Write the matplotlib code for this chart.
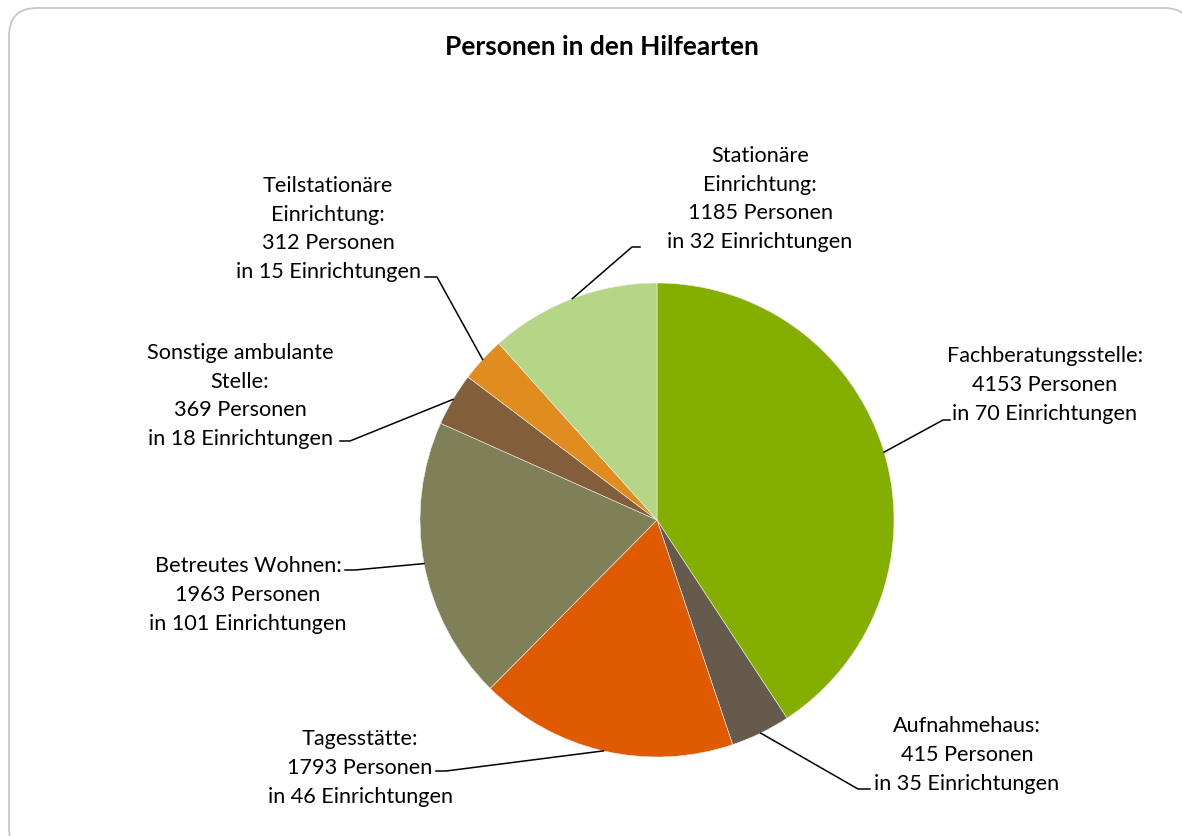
import matplotlib.pyplot as plt
import numpy as np
from matplotlib.patches import FancyBboxPatch

plt.rcParams['font.family'] = ['Lato', 'DejaVu Sans']

names = ['Fachberatungsstelle', 'Aufnahmehaus', 'Tagesstätte', 'Betreutes Wohnen',
         'Sonstige ambulante\nStelle', 'Teilstationäre\nEinrichtung', 'Stationäre\nEinrichtung']
persons = [4153, 415, 1793, 1963, 369, 312, 1185]
facilities = [70, 35, 46, 101, 18, 15, 32]
colors = ['#84AF00', '#655A4C', '#E05A00', '#7F7F58', '#825E3A', '#E08C1E', '#B5D587']

# label text centre (px from top-left) and elbow of the leader line
label_pos = [(1045, 385), (967, 755), (360, 768), (248, 595), (240, 396), (328, 229), (760, 199)]
elbows = [((943, 421), (950, 421)), ((858, 790), (870, 790)), ((446, 772), (436, 772)),
          ((355, 571), (345, 571)), ((350, 442), (340, 442)), ((437, 278), (425, 278)),
          ((632, 248), (640, 248))]

W, H = 1182, 837
fig = plt.figure(figsize=(W / 100, H / 100), dpi=100)
ax = fig.add_axes([0, 0, 1, 1])

frame = FancyBboxPatch((9, -20), 1183, H - 9 + 20, boxstyle='round,pad=0,rounding_size=28',
                       fc='white', ec='#C8C8C8', lw=1.3, zorder=0)
ax.add_patch(frame)

cx, cy, r = 657, H - 521, 237
wedges, _ = ax.pie(persons, colors=colors, startangle=90, counterclock=False,
                   center=(cx, cy), radius=r, frame=True,
                   wedgeprops=dict(linewidth=0.4, edgecolor='#EEEEEE'))
ax.set_xlim(0, W)
ax.set_ylim(0, H)
ax.set_aspect('equal')
ax.axis('off')

for w, name, p, f, (tx, ty), (e1, e2) in zip(wedges, names, persons, facilities, label_pos, elbows):
    ang = np.deg2rad((w.theta1 + w.theta2) / 2)
    sx, sy = cx + r * np.cos(ang), cy + r * np.sin(ang)
    ax.plot([sx, e1[0], e2[0]], [sy, H - e1[1], H - e2[1]], color='black', lw=1.1, zorder=3)
    txt = f'{name}:\n{p} Personen\nin {f} Einrichtungen'
    ax.text(tx, H - ty, txt, ha='center', va='center', fontsize=15.6,
            linespacing=1.55, color='black')

ax.text(602, H - 47, 'Personen in den Hilfearten', ha='center', va='center',
        fontsize=19, fontweight='bold')

fig.savefig('out.png', dpi=100)
